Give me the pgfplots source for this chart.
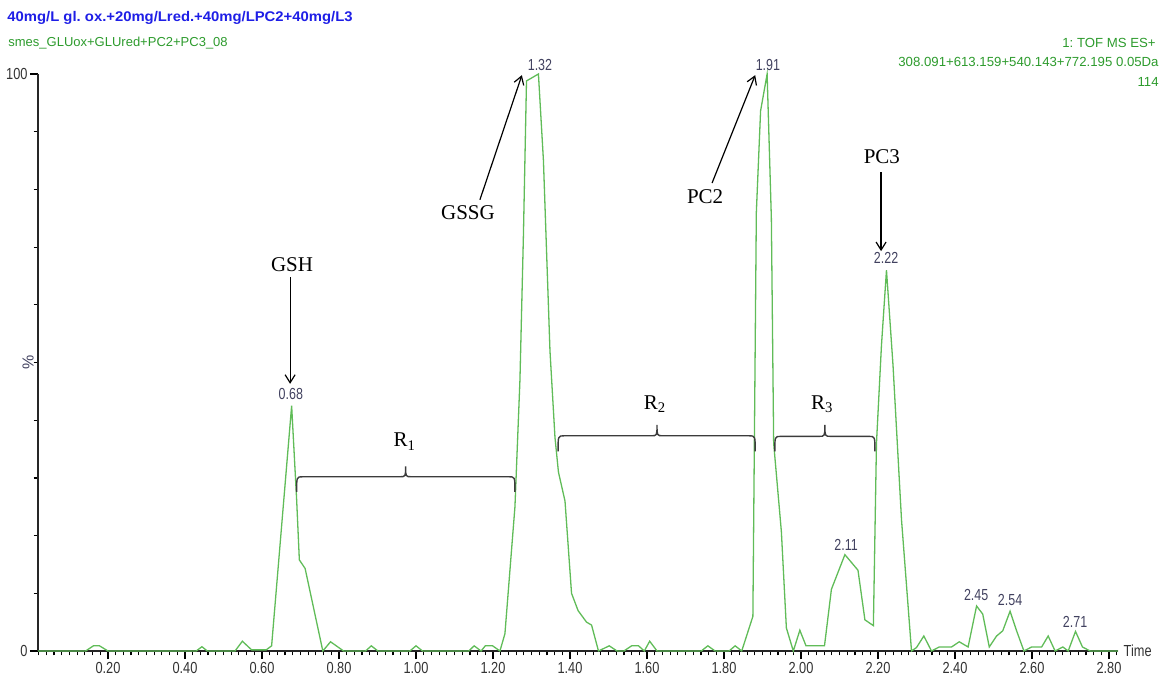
\documentclass[border=0pt]{standalone}
\usepackage{fontspec}
\setmainfont{Liberation Sans}
\newfontfamily\serifA{Liberation Serif}
\usepackage{pgfplots}
\pgfplotsset{compat=1.18}
\usetikzlibrary{arrows.meta}
\definecolor{curve}{RGB}{96,188,88}
\definecolor{tgreen}{RGB}{45,155,45}
\definecolor{tblue}{RGB}{30,30,230}
\definecolor{plab}{RGB}{65,65,95}
\definecolor{brk}{RGB}{60,60,60}
\newcommand{\regbrace}[6]{%
 \draw[brk, line width=0.7pt] (axis cs:#1,#4) .. controls (axis cs:#1,#5) .. ([xshift=3pt]axis cs:#1,#5) -- ([xshift=-3pt]axis cs:#3,#5) .. controls (axis cs:#3,#5) .. (axis cs:#3,#6) .. controls (axis cs:#3,#5) .. ([xshift=3pt]axis cs:#3,#5) -- ([xshift=-3pt]axis cs:#2,#5) .. controls (axis cs:#2,#5) .. (axis cs:#2,#4);}
\tikzset{
 plab/.style={font=\fontsize{8}{9}\selectfont, text=plab, xscale=0.78, inner sep=0pt},
 ann/.style={font=\serifA\fontsize{10.5}{12}\selectfont, text=black, inner sep=0pt},
 arr/.style={black, line width=0.6pt, -{Straight Barb[length=4pt,width=5pt]}}
}
\frenchspacing
\begin{document}
\begin{tikzpicture}[x=1pt,y=1pt]
\useasboundingbox (0,0) rectangle (580,338.5);
\node[anchor=west, font=\bfseries\fontsize{7}{8}\selectfont, text=tblue, inner sep=0pt, xscale=1.06] at (3.5,329.5) {40mg/L gl. ox.+20mg/Lred.+40mg/LPC2+40mg/L3};
\node[anchor=west, font=\fontsize{6.5}{8}\selectfont, text=tgreen, inner sep=0pt] at (4,317) {smes\_GLUox+GLUred+PC2+PC3\_08};
\node[anchor=east, font=\fontsize{6.6}{8}\selectfont, text=tgreen, inner sep=0pt] at (578,317) {1: TOF MS ES+};
\node[anchor=east, font=\fontsize{6.6}{8}\selectfont, text=tgreen, inner sep=0pt] at (579.5,307.5) {308.091+613.159+540.143+772.195 0.05Da};
\node[anchor=east, font=\fontsize{6.6}{8}\selectfont, text=tgreen, inner sep=0pt] at (579.5,297.5) {114};
\begin{axis}[at={(19pt,13pt)}, anchor=south west, scale only axis,
 width=540pt, height=288.5pt,
 xmin=0.0182, xmax=2.8234, ymin=0, ymax=100,
 axis x line*=bottom, axis y line*=left,
 axis line style={-, line width=1pt, black!85},
 xtick pos=bottom, ytick pos=left,
 xtick={0,0.2,0.4,0.6,0.8,1.0,1.2,1.4,1.6,1.8,2.0,2.2,2.4,2.6,2.8,3.0},
 minor x tick num=9,
 ytick={0,100}, minor ytick={10,20,30,40,50,60,70,80,90},
 tick align=outside, major tick length=4pt, minor tick length=2.2pt,
 every tick/.style={black, line width=0.6pt},
 ticklabel style={font=\fontsize{8}{9}\selectfont, text=black!80},
 xticklabel style={xscale=0.8, yshift=2pt, /pgf/number format/.cd, fixed, fixed zerofill, precision=2, assume math mode=true},
 yticklabel style={xscale=0.8, xshift=2pt, /pgf/number format/assume math mode=true},
 clip=false,
]
\addplot[curve, line width=0.65pt] coordinates {
(0.0182,0) (0.142,0) (0.162,0.9) (0.178,0.9) (0.200,0) (0.429,0) (0.444,0.75) (0.458,0)
(0.530,0) (0.549,1.7) (0.573,0.2) (0.611,0.2) (0.625,0.9) (0.677,42.5) (0.690,26.2)
(0.697,15.8) (0.712,14.3) (0.758,0) (0.778,1.6) (0.812,0) (0.869,0) (0.884,0.9) (0.901,0)
(0.984,0) (1.000,0.9) (1.017,0) (1.137,0) (1.151,0.9) (1.169,0) (1.180,0.9) (1.199,0.9)
(1.218,0) (1.231,3) (1.257,25) (1.270,47) (1.279,72) (1.287,98.8) (1.318,100) (1.331,85)
(1.348,52) (1.361,37) (1.370,31) (1.387,26) (1.404,10) (1.421,7) (1.443,5) (1.456,4.5)
(1.474,0) (1.502,0.9) (1.522,0) (1.540,0) (1.560,0.9) (1.578,0.9) (1.593,0) (1.607,1.7)
(1.626,0) (1.741,0) (1.758,0.9) (1.777,0) (1.813,0) (1.829,0.9) (1.846,0) (1.875,6)
(1.884,76) (1.895,93.6) (1.912,100) (1.923,75) (1.929,36) (1.949,20.7) (1.962,4) (1.980,0)
(1.997,3.6) (2.013,0.9) (2.061,0.9) (2.079,10.7) (2.114,16.7) (2.148,14) (2.166,5.4)
(2.188,4.4) (2.196,36) (2.209,53) (2.222,66) (2.239,49.5) (2.261,22.8) (2.287,0) (2.300,0.6)
(2.319,2.6) (2.339,0) (2.359,0.7) (2.391,0.7) (2.411,1.6) (2.434,0.7) (2.456,7.8) (2.472,6.4)
(2.489,0.7) (2.508,2.6) (2.524,3.5) (2.543,6.9) (2.560,3.5) (2.579,0) (2.599,0.7) (2.625,0.7)
(2.642,2.6) (2.660,0) (2.680,0.7) (2.694,0) (2.713,3.4) (2.731,0.7) (2.751,0) (2.8234,0)
};
% axis side labels
\node[anchor=west, font=\fontsize{8}{9}\selectfont, text=black!80, xscale=0.8] at (axis cs:2.8234,0) {Time};
\node[rotate=90, font=\fontsize{8}{9}\selectfont, text=plab, inner sep=0pt] at ([xshift=-5pt]axis cs:0.0182,50) {\%};
% peak labels
\node[plab] at (axis cs:0.675,44.5) {0.68};
\node[plab] at (axis cs:1.322,101.6) {1.32};
\node[plab] at (axis cs:1.914,101.6) {1.91};
\node[plab] at (axis cs:2.221,68.1) {2.22};
\node[plab] at (axis cs:2.117,18.4) {2.11};
\node[plab] at (axis cs:2.455,9.7) {2.45};
\node[plab] at (axis cs:2.543,8.8) {2.54};
\node[plab] at (axis cs:2.712,5.1) {2.71};
% annotations
\node[ann] at (axis cs:0.678,66.9) {GSH};
\draw[arr] (axis cs:0.673,64.8) -- (axis cs:0.673,46.3);
\node[ann] at (axis cs:1.135,75.9) {GSSG};
\draw[arr] (axis cs:1.166,78.2) -- (axis cs:1.275,99.8);
\node[ann] at (axis cs:1.751,78.7) {PC2};
\draw[arr] (axis cs:1.769,81.1) -- (axis cs:1.881,99.8);
\node[ann] at (axis cs:2.210,85.6) {PC3};
\draw[arr] (axis cs:2.208,83) -- (axis cs:2.208,69.3);
% region braces
\regbrace{0.690}{1.257}{0.973}{27.6}{30.2}{32.0}
\regbrace{1.369}{1.881}{1.626}{34.6}{37.3}{39.2}
\regbrace{1.932}{2.192}{2.062}{34.6}{37.2}{39.2}
\node[ann] at (axis cs:0.971,36.3) {R\textsubscript{1}};
\node[ann] at (axis cs:1.621,42.8) {R\textsubscript{2}};
\node[ann] at (axis cs:2.055,42.8) {R\textsubscript{3}};
\end{axis}
\end{tikzpicture}
\end{document}
